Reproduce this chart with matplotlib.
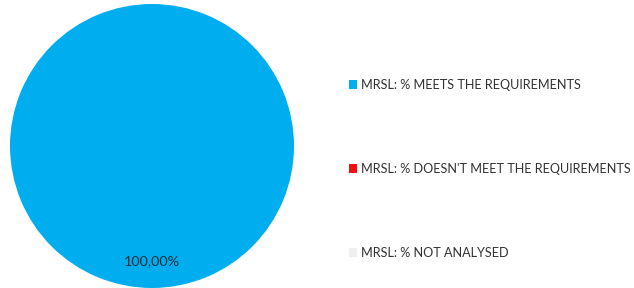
import matplotlib.pyplot as plt
from matplotlib.patches import Patch

# data
labels = ["MRSL: % MEETS THE REQUIREMENTS",
          "MRSL: % DOESN'T MEET THE REQUIREMENTS",
          "MRSL: % NOT ANALYSED"]
values = [100.0, 0.0, 0.0]
colors = ["#00AEEF", "#F20F0F", "#EFEFEF"]

plt.rcParams['font.family'] = ['Lato', 'DejaVu Sans']

fig = plt.figure(figsize=(6.34, 2.88), dpi=100)
ax = fig.add_axes([10 / 634, 0, 284 / 634, 284 / 288])


def pct(p):
    if p <= 0:
        return ''
    return f"{p:.2f}%".replace('.', ',')


wedges, texts, autotexts = ax.pie(values, colors=colors, startangle=90,
                                  counterclock=False, autopct=pct,
                                  pctdistance=0.81,
                                  textprops={'fontsize': 10.4, 'color': '#17303f'})
ax.set_aspect('equal')
ax.set_xlim(-1, 1)
ax.set_ylim(-1, 1)

handles = [Patch(facecolor=c, edgecolor='none') for c in colors]
fig.legend(handles, labels, loc='center left', bbox_to_anchor=(343 / 634, 1 - 169 / 288),
           frameon=False, fontsize=9.1, labelcolor='#333333',
           handlelength=0.62, handleheight=0.62, handletextpad=0.3,
           labelspacing=5.7, borderpad=0)

fig.savefig('out.png', dpi=100)
